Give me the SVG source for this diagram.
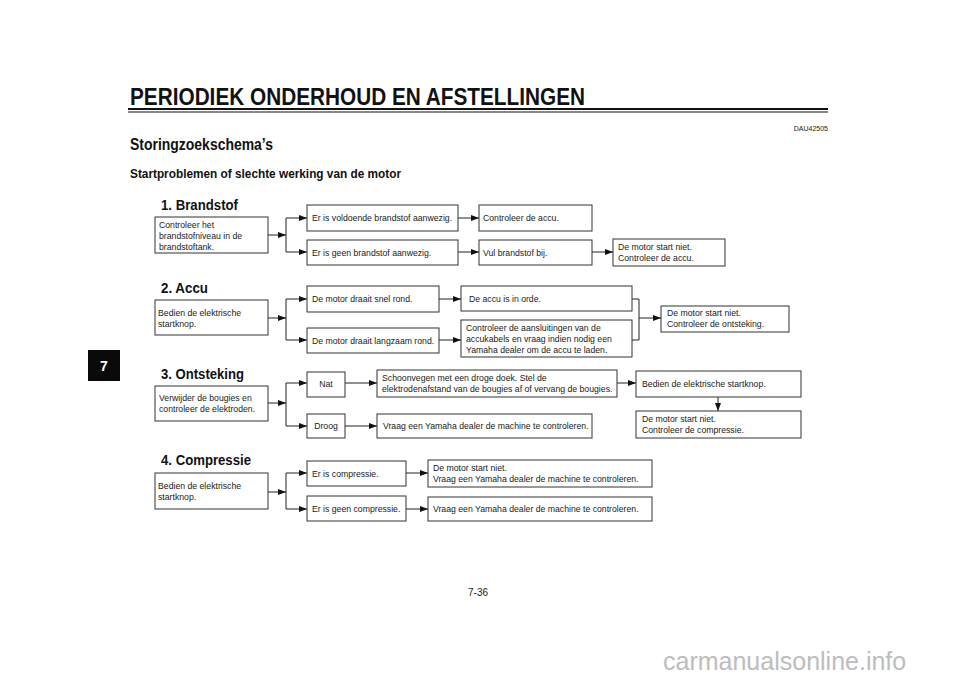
<svg xmlns="http://www.w3.org/2000/svg" width="960" height="679" viewBox="0 0 960 679">
<defs>
<marker id="ah" viewBox="0 0 8 6" refX="8" refY="3" markerWidth="8" markerHeight="6" markerUnits="userSpaceOnUse" orient="auto">
<path d="M0,0 L8,3 L0,6 Z" fill="#111"/>
</marker>
</defs>
<style>
.bx{fill:#fff;stroke:#333;stroke-width:1}
.t{font-family:"Liberation Sans",Arial,sans-serif;font-size:8.7px;fill:#1a1a1a}
.h{font-family:"Liberation Sans",Arial,sans-serif;font-weight:bold;fill:#111}
.c{fill:none;stroke:#222;stroke-width:1}
.a{fill:none;stroke:#222;stroke-width:1;marker-end:url(#ah)}
</style>
<rect width="960" height="679" fill="#fff"/>
<g id="header">
<text class="h" x="130" y="105" font-size="23.5" textLength="455" lengthAdjust="spacingAndGlyphs">PERIODIEK ONDERHOUD EN AFSTELLINGEN</text>
<rect x="128" y="108" width="700" height="2" fill="#111"/>
<rect x="128" y="111.5" width="700" height="1" fill="#111"/>
<text class="t" x="828" y="131" text-anchor="end" style="font-size:7px">DAU42505</text>
<text class="h" x="130" y="150" font-size="16.5" textLength="143" lengthAdjust="spacingAndGlyphs">Storingzoekschema’s</text>
<text class="h" x="130" y="178" font-size="12" textLength="271" lengthAdjust="spacingAndGlyphs">Startproblemen of slechte werking van de motor</text>
<text class="h" x="161" y="210" font-size="14" textLength="77" lengthAdjust="spacingAndGlyphs">1. Brandstof</text>
<text class="h" x="161" y="293" font-size="14" textLength="47" lengthAdjust="spacingAndGlyphs">2. Accu</text>
<text class="h" x="161" y="379" font-size="14" textLength="83" lengthAdjust="spacingAndGlyphs">3. Ontsteking</text>
<text class="h" x="161" y="465" font-size="14" textLength="90" lengthAdjust="spacingAndGlyphs">4. Compressie</text>
</g>
<g id="tab">
<rect x="88" y="350" width="32" height="31" fill="#0a0a0a"/>
<text class="h" x="104" y="371" font-size="14" text-anchor="middle" style="fill:#fff">7</text>
</g>
<g id="connectors">
<line class="a" x1="268" y1="235" x2="286" y2="235"/>
<line class="c" x1="286" y1="218" x2="286" y2="252"/>
<line class="a" x1="286" y1="218" x2="307" y2="218"/>
<line class="a" x1="286" y1="252" x2="307" y2="252"/>
<line class="a" x1="458" y1="218" x2="479" y2="218"/>
<line class="a" x1="458" y1="252" x2="479" y2="252"/>
<line class="a" x1="592" y1="252" x2="613" y2="252"/>
<line class="a" x1="268" y1="318" x2="286" y2="318"/>
<line class="c" x1="286" y1="299" x2="286" y2="340"/>
<line class="a" x1="286" y1="299" x2="307" y2="299"/>
<line class="a" x1="286" y1="340" x2="307" y2="340"/>
<line class="a" x1="439" y1="299" x2="461" y2="299"/>
<line class="a" x1="439" y1="340" x2="461" y2="340"/>
<polyline class="c" points="632,299 639,299 639,340 632,340"/>
<line class="a" x1="639" y1="318" x2="661" y2="318"/>
<line class="a" x1="268" y1="403" x2="286" y2="403"/>
<line class="c" x1="286" y1="383" x2="286" y2="426"/>
<line class="a" x1="286" y1="383" x2="307" y2="383"/>
<line class="a" x1="286" y1="426" x2="307" y2="426"/>
<line class="a" x1="345" y1="383" x2="377" y2="383"/>
<line class="a" x1="345" y1="426" x2="377" y2="426"/>
<line class="a" x1="617" y1="383" x2="636" y2="383"/>
<line class="a" x1="718" y1="397" x2="718" y2="411"/>
<line class="a" x1="268" y1="492" x2="286" y2="492"/>
<line class="c" x1="286" y1="473" x2="286" y2="509"/>
<line class="a" x1="286" y1="473" x2="307" y2="473"/>
<line class="a" x1="286" y1="509" x2="307" y2="509"/>
<line class="a" x1="406" y1="473" x2="428" y2="473"/>
<line class="a" x1="406" y1="509" x2="428" y2="509"/>
</g>
<g id="n1a"><rect class="bx" x="155" y="217" width="113" height="36"/>
<text class="t" x="159" y="228">Controleer het</text><text class="t" x="159" y="239">brandstofniveau in de</text><text class="t" x="159" y="250">brandstoftank.</text></g>
<g id="n1b1"><rect class="bx" x="307" y="205" width="151" height="26"/><text class="t" x="312" y="221">Er is voldoende brandstof aanwezig.</text></g>
<g id="n1b2"><rect class="bx" x="307" y="240" width="151" height="25"/><text class="t" x="312" y="256">Er is geen brandstof aanwezig.</text></g>
<g id="n1c1"><rect class="bx" x="479" y="205" width="113" height="26"/><text class="t" x="483" y="221">Controleer de accu.</text></g>
<g id="n1c2"><rect class="bx" x="479" y="240" width="113" height="25"/><text class="t" x="483" y="256">Vul brandstof bij.</text></g>
<g id="n1d"><rect class="bx" x="613" y="239" width="112" height="27"/>
<text class="t" x="618" y="250">De motor start niet.</text><text class="t" x="618" y="261">Controleer de accu.</text></g>
<g id="n2a"><rect class="bx" x="155" y="300" width="113" height="35"/>
<text class="t" x="158" y="316">Bedien de elektrische</text><text class="t" x="158" y="327">startknop.</text></g>
<g id="n2b1"><rect class="bx" x="307" y="286" width="132" height="26"/><text class="t" x="312" y="302">De motor draait snel rond.</text></g>
<g id="n2b2"><rect class="bx" x="307" y="328" width="132" height="25"/><text class="t" x="312" y="344">De motor draait langzaam rond.</text></g>
<g id="n2c1"><rect class="bx" x="461" y="286" width="171" height="25"/><text class="t" x="469" y="302">De accu is in orde.</text></g>
<g id="n2c2"><rect class="bx" x="461" y="320" width="171" height="37"/>
<text class="t" x="466" y="331">Controleer de aansluitingen van de</text><text class="t" x="466" y="342">accukabels en vraag indien nodig een</text><text class="t" x="466" y="353">Yamaha dealer om de accu te laden.</text></g>
<g id="n2d"><rect class="bx" x="661" y="306" width="128" height="26"/>
<text class="t" x="667" y="316">De motor start niet.</text><text class="t" x="667" y="327">Controleer de ontsteking.</text></g>
<g id="n3a"><rect class="bx" x="155" y="386" width="113" height="35"/>
<text class="t" x="159" y="401">Verwijder de bougies en</text><text class="t" x="159" y="412">controleer de elektroden.</text></g>
<g id="n3b1"><rect class="bx" x="307" y="372" width="38" height="25"/><text class="t" x="326" y="387" text-anchor="middle">Nat</text></g>
<g id="n3b2"><rect class="bx" x="307" y="414" width="38" height="24"/><text class="t" x="326" y="429" text-anchor="middle">Droog</text></g>
<g id="n3c1"><rect class="bx" x="377" y="370" width="240" height="27"/>
<text class="t" x="382" y="381">Schoonvegen met een droge doek. Stel de</text><text class="t" x="382" y="392">elektrodenafstand van de bougies af of vervang de bougies.</text></g>
<g id="n3c2"><rect class="bx" x="377" y="414" width="215" height="24"/><text class="t" x="383" y="429">Vraag een Yamaha dealer de machine te controleren.</text></g>
<g id="n3d"><rect class="bx" x="636" y="371" width="165" height="26"/><text class="t" x="642" y="387">Bedien de elektrische startknop.</text></g>
<g id="n3e"><rect class="bx" x="636" y="411" width="165" height="27"/>
<text class="t" x="642" y="422">De motor start niet.</text><text class="t" x="642" y="433">Controleer de compressie.</text></g>
<g id="n4a"><rect class="bx" x="155" y="473" width="113" height="36"/>
<text class="t" x="158" y="489">Bedien de elektrische</text><text class="t" x="158" y="500">startknop.</text></g>
<g id="n4b1"><rect class="bx" x="307" y="461" width="99" height="25"/><text class="t" x="312" y="477">Er is compressie.</text></g>
<g id="n4b2"><rect class="bx" x="307" y="496" width="99" height="25"/><text class="t" x="312" y="512">Er is geen compressie.</text></g>
<g id="n4c1"><rect class="bx" x="428" y="460" width="224" height="27"/>
<text class="t" x="433" y="471">De motor start niet.</text><text class="t" x="433" y="482">Vraag een Yamaha dealer de machine te controleren.</text></g>
<g id="n4c2"><rect class="bx" x="428" y="497" width="224" height="24"/><text class="t" x="433" y="512">Vraag een Yamaha dealer de machine te controleren.</text></g>
<g id="footer">
<text class="t" x="478" y="596" text-anchor="middle" style="font-size:10px">7-36</text>
<text x="663" y="670" font-family="Liberation Sans, Arial, sans-serif" font-size="25" fill="#bdbdbd">carmanualsonline.info</text>
</g>
</svg>
